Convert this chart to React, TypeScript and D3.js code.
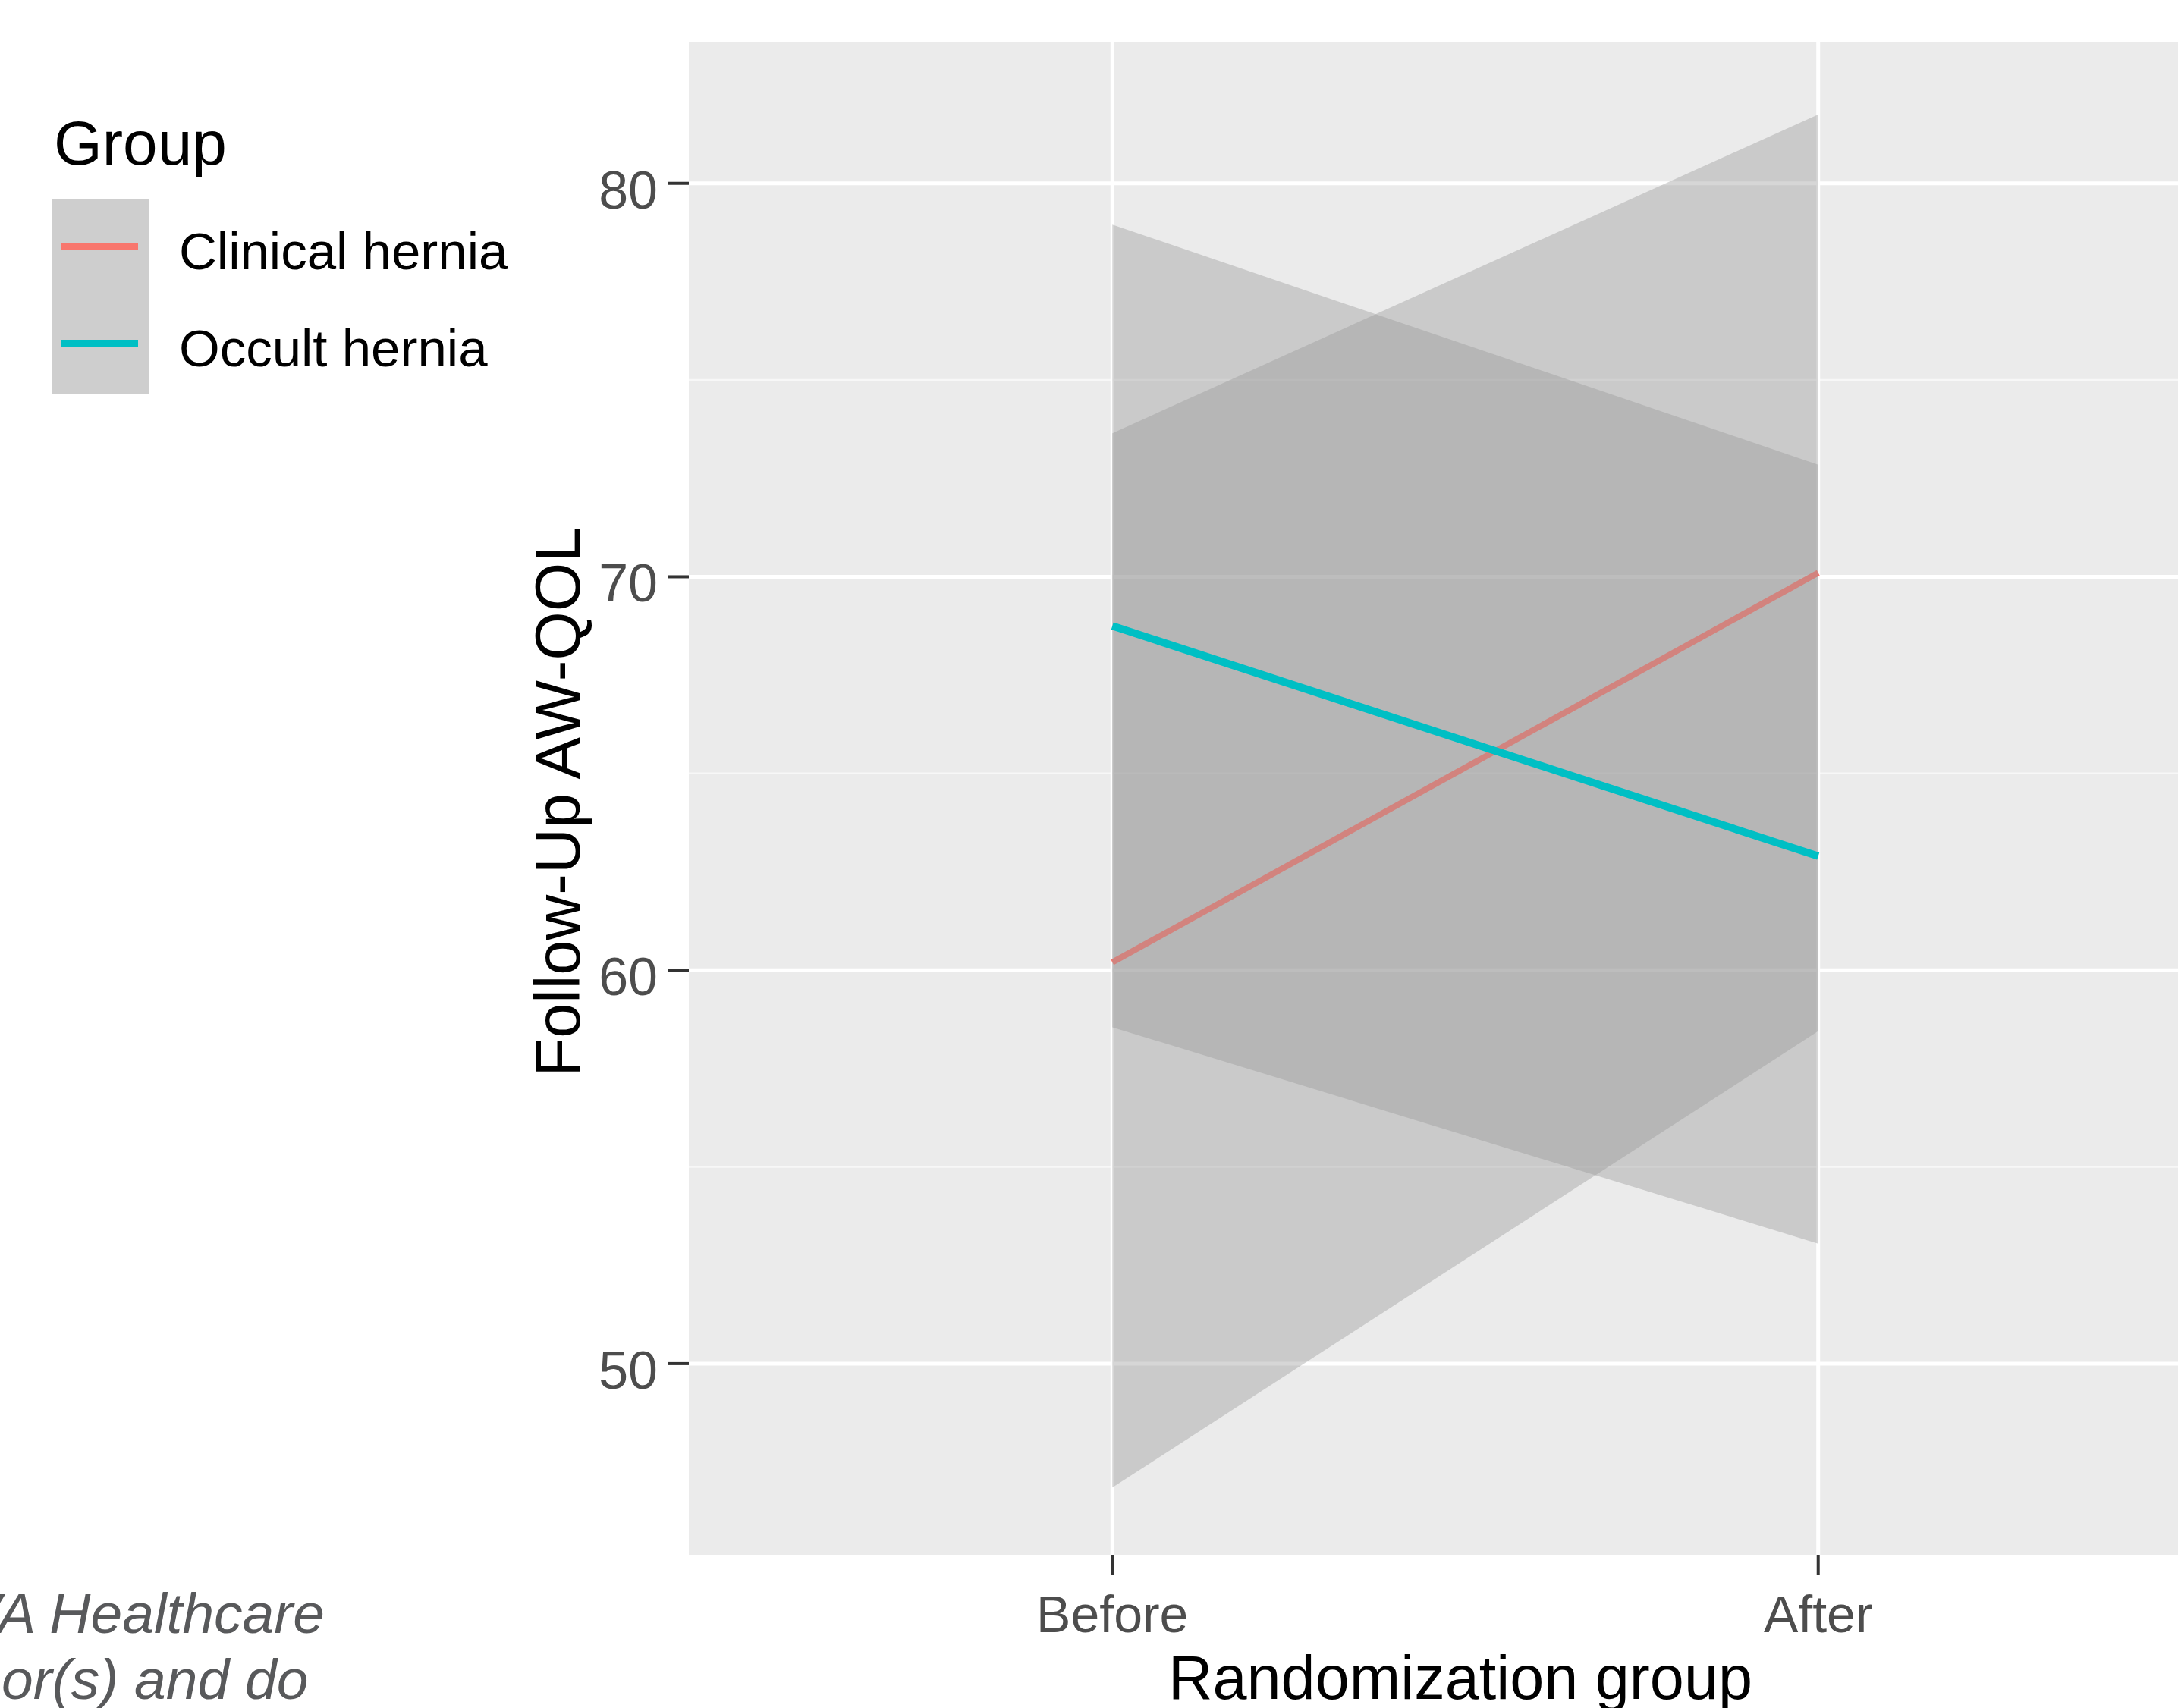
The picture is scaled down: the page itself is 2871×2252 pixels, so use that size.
import { useEffect, useRef } from "react";
import * as d3 from "d3";

// data
const periods = ["Before", "After"];
const groups = ["Clinical hernia", "Occult hernia"];
const groupColors = ["#F8766D", "#00BFC4"];

const clinicalMean = [60.2, 70.1];
const clinicalLower = [46.85, 58.45];
const clinicalUpper = [73.65, 81.75];

const occultMean = [68.75, 62.9];
const occultLower = [58.55, 53.05];
const occultUpper = [78.95, 72.85];

const yMajorTicks = [50, 60, 70, 80];
const yMinorTicks = [55, 65, 75];

function Chart() {
  const ref = useRef<SVGSVGElement | null>(null);
  const width = 2871;
  const height = 2252;

  useEffect(() => {
    const svg = d3.select(ref.current);
    svg.selectAll("*").remove();

    const font = "'Liberation Sans', Arial, Helvetica, sans-serif";

    // discrete x on positions 1,2 with ggplot's 0.6 expansion
    const x = d3.scaleLinear().domain([0.4, 2.6]).range([908, 2955]);
    const y = d3.scaleLinear().domain([45.14, 83.6]).range([2050, 55]);

    svg.append("rect").attr("width", width).attr("height", height).attr("fill", "white");

    // panel
    svg.append("rect")
      .attr("x", x(0.4))
      .attr("y", y(83.6))
      .attr("width", x(2.6) - x(0.4))
      .attr("height", y(45.14) - y(83.6))
      .attr("fill", "#EBEBEB");

    const grid = svg.append("g");
    yMinorTicks.forEach((t) => {
      grid.append("line")
        .attr("x1", x(0.4)).attr("x2", x(2.6))
        .attr("y1", y(t)).attr("y2", y(t))
        .attr("stroke", "#F7F7F7").attr("stroke-width", 2.5);
    });
    yMajorTicks.forEach((t) => {
      grid.append("line")
        .attr("x1", x(0.4)).attr("x2", x(2.6))
        .attr("y1", y(t)).attr("y2", y(t))
        .attr("stroke", "white").attr("stroke-width", 5);
    });
    periods.forEach((p, i) => {
      grid.append("line")
        .attr("x1", x(i + 1)).attr("x2", x(i + 1))
        .attr("y1", y(83.6)).attr("y2", y(45.14))
        .attr("stroke", "white").attr("stroke-width", 5);
    });

    const series = [
      { mean: clinicalMean, lo: clinicalLower, hi: clinicalUpper },
      { mean: occultMean, lo: occultLower, hi: occultUpper },
    ];

    // ggplot draws ribbon + line per group, so red sits under the teal ribbon
    series.forEach((s, gi) => {
      const band = d3.area<number>()
        .x((d, i) => x(i + 1))
        .y0((d, i) => y(s.lo[i]))
        .y1((d, i) => y(s.hi[i]));
      svg.append("path")
        .attr("d", band(s.mean) as string)
        .attr("fill", "#999999")
        .attr("fill-opacity", 0.4);

      const line = d3.line<number>()
        .x((d, i) => x(i + 1))
        .y((d) => y(d));
      svg.append("path")
        .attr("d", line(s.mean) as string)
        .attr("fill", "none")
        .attr("stroke", groupColors[gi])
        .attr("stroke-width", gi === 1 ? 10 : 8);
    });

    // y axis
    const yAxis = svg.append("g");
    yMajorTicks.forEach((t) => {
      yAxis.append("line")
        .attr("x1", x(0.4) - 27).attr("x2", x(0.4))
        .attr("y1", y(t)).attr("y2", y(t))
        .attr("stroke", "#333333").attr("stroke-width", 4);
      yAxis.append("text")
        .attr("x", 867)
        .attr("y", y(t) + 33)
        .attr("text-anchor", "end")
        .attr("font-family", font)
        .attr("font-size", 70)
        .attr("fill", "#4D4D4D")
        .text(String(t));
    });

    // x axis
    const xAxis = svg.append("g");
    periods.forEach((p, i) => {
      xAxis.append("line")
        .attr("x1", x(i + 1)).attr("x2", x(i + 1))
        .attr("y1", y(45.14)).attr("y2", y(45.14) + 27)
        .attr("stroke", "#333333").attr("stroke-width", 4);
      xAxis.append("text")
        .attr("x", x(i + 1))
        .attr("y", 2152)
        .attr("text-anchor", "middle")
        .attr("font-family", font)
        .attr("font-size", 68)
        .attr("fill", "#4D4D4D")
        .text(p);
    });

    svg.append("text")
      .attr("x", 1925)
      .attr("y", 2240)
      .attr("text-anchor", "middle")
      .attr("font-family", font)
      .attr("font-size", 81)
      .attr("fill", "black")
      .text("Randomization group");

    svg.append("text")
      .attr("transform", `translate(764, ${(y(83.6) + y(45.14)) / 2 + 5}) rotate(-90)`)
      .attr("text-anchor", "middle")
      .attr("font-family", font)
      .attr("font-size", 83)
      .attr("fill", "black")
      .text("Follow-Up AW-QOL");

    // legend
    const legend = svg.append("g");
    legend.append("text")
      .attr("x", 71).attr("y", 217)
      .attr("font-family", font)
      .attr("font-size", 82)
      .attr("fill", "black")
      .text("Group");

    groups.forEach((g, i) => {
      const top = 263 + i * 128;
      legend.append("rect")
        .attr("x", 68).attr("y", top)
        .attr("width", 128).attr("height", 128)
        .attr("fill", "#F2F2F2");
      legend.append("rect")
        .attr("x", 68).attr("y", top)
        .attr("width", 128).attr("height", 128)
        .attr("fill", "#999999").attr("fill-opacity", 0.4);
      legend.append("line")
        .attr("x1", 80).attr("x2", 182)
        .attr("y1", top + 62).attr("y2", top + 62)
        .attr("stroke", groupColors[i]).attr("stroke-width", 10);
      legend.append("text")
        .attr("x", 236).attr("y", top + 92)
        .attr("font-family", font)
        .attr("font-size", 69)
        .attr("fill", "black")
        .text(g);
    });

    // cropped caption at bottom left
    svg.append("text")
      .attr("x", 428).attr("y", 2153)
      .attr("text-anchor", "end")
      .attr("font-family", font)
      .attr("font-style", "italic")
      .attr("font-size", 75)
      .attr("fill", "#58595B")
      .text("VA Healthcare");
    svg.append("text")
      .attr("x", 2).attr("y", 2240)
      .attr("font-family", font)
      .attr("font-style", "italic")
      .attr("font-size", 75)
      .attr("fill", "#58595B")
      .text("or(s) and do");
  }, []);

  return <svg ref={ref} width={width} height={height} style={{ display: "block" }} />;
}

export default function App() {
  return (
    <div style={{ position: "absolute", left: 0, top: 0 }}>
      <Chart />
    </div>
  );
}
